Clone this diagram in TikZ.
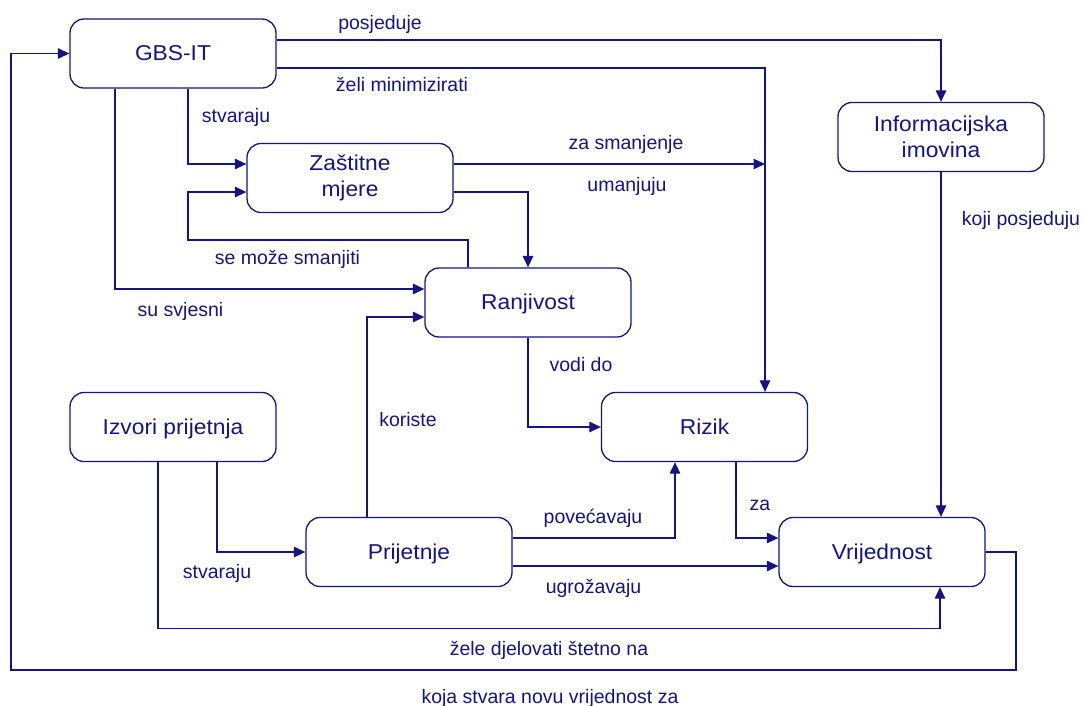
\documentclass[tikz,border=0pt]{standalone}
\usepackage{fontspec}
\setmainfont{Liberation Sans}
\newfontfamily\boxfont[FakeStretch=1.06]{Liberation Sans}
\usetikzlibrary{arrows.meta}
\definecolor{navy}{RGB}{20,20,130}
\begin{document}
\begin{tikzpicture}[x=1pt,y=-1pt,
  box/.style={draw=navy, line width=1.3pt, rounded corners=14pt, minimum width=206pt,
    minimum height=69pt, inner sep=0pt, text=navy,
    font=\boxfont\fontsize{21.5}{25.5}\selectfont, align=center},
  one/.style={text height=14.5pt, text depth=0pt},
  arr/.style={draw=navy, line width=1.25pt, -{Triangle[length=11.5pt,width=10.5pt]}},
  lbl/.style={text=navy, font=\fontsize{19.5}{23}\selectfont, anchor=base, inner sep=0pt}]
\useasboundingbox (0,0) rectangle (1084,705);

% boxes
\node[box,one] (gbs) at (173,53.5) {GBS-IT};
\node[box] (zas) at (350,178) {Zaštitne\\mjere};
\node[box] (inf) at (941,137) {Informacijska\\imovina};
\node[box,one] (ran) at (528,302.5) {Ranjivost};
\node[box,one] (riz) at (704.5,427) {Rizik};
\node[box,one] (izv) at (173,427) {Izvori prijetnja};
\node[box,one] (pri) at (409,552) {Prijetnje};
\node[box,one] (vri) at (882,552) {Vrijednost};

% helper coordinates
\coordinate (zm) at (765,164);
\coordinate (lp) at (11,53.5);
\coordinate (rp) at (1016,670);

% connectors
\draw[arr] ([yshift=13.5pt]gbs.east) -| (inf.north);
\draw[arr] ([yshift=-14.5pt]gbs.east) -| ([xshift=60.5pt]riz.north);
\draw[arr] ([xshift=15pt]gbs.south) |- ([yshift=14pt]zas.west);
\draw[arr] ([xshift=-58pt]gbs.south) |- ([yshift=13.5pt]ran.west);
\draw[arr] ([xshift=-60pt]ran.north) |- (188,240) |- ([yshift=-14pt]zas.west);
\draw[arr] ([yshift=14pt]zas.east) -- (zm);
\draw[arr] ([yshift=-14pt]zas.east) -| (ran.north);
\draw[arr] (inf.south) -- (inf.south |- vri.north);
\draw[arr] (ran.south) |- (riz.west);
\draw[arr] ([xshift=44pt]izv.south) |- (pri.west);
\draw[arr] ([xshift=-15pt]izv.south) -- ++(0,166.5) -| ([xshift=58pt]vri.south);
\draw[arr] ([xshift=-42pt]pri.north) |- ([yshift=-14.5pt]ran.west);
\draw[arr] ([yshift=14pt]pri.east) -| ([xshift=-29.5pt]riz.south);
\draw[arr] ([yshift=-14pt]pri.east) -- ([yshift=-14pt]vri.west);
\draw[arr] ([xshift=31.5pt]riz.south) |- ([yshift=14pt]vri.west);
\draw[arr] (vri.east) -| (rp) -| (lp) -- (gbs.west);

% labels
\node[lbl] (l1) at (380,29) {posjeduje};
\node[lbl] (l2) at (402,91) {želi minimizirati};
\node[lbl] (l3) at (236,122) {stvaraju};
\node[lbl] (l4) at (626,149) {za smanjenje};
\node[lbl] (l5) at (627,191) {umanjuju};
\node[lbl] (l6) at (1021,225) {koji posjeduju};
\node[lbl] (l7) at (287.5,264) {se može smanjiti};
\node[lbl] (l8) at (180.5,316) {su svjesni};
\node[lbl] (l9) at (581,371) {vodi do};
\node[lbl] (l10) at (408,426) {koriste};
\node[lbl] (l11) at (760,510) {za};
\node[lbl] (l12) at (593,523) {povećavaju};
\node[lbl] (l13) at (217,578) {stvaraju};
\node[lbl] (l14) at (593.5,593) {ugrožavaju};
\node[lbl] (l15) at (549,655) {žele djelovati štetno na};
\node[lbl] (l16) at (550,703) {koja stvara novu vrijednost za};
\end{tikzpicture}
\end{document}
